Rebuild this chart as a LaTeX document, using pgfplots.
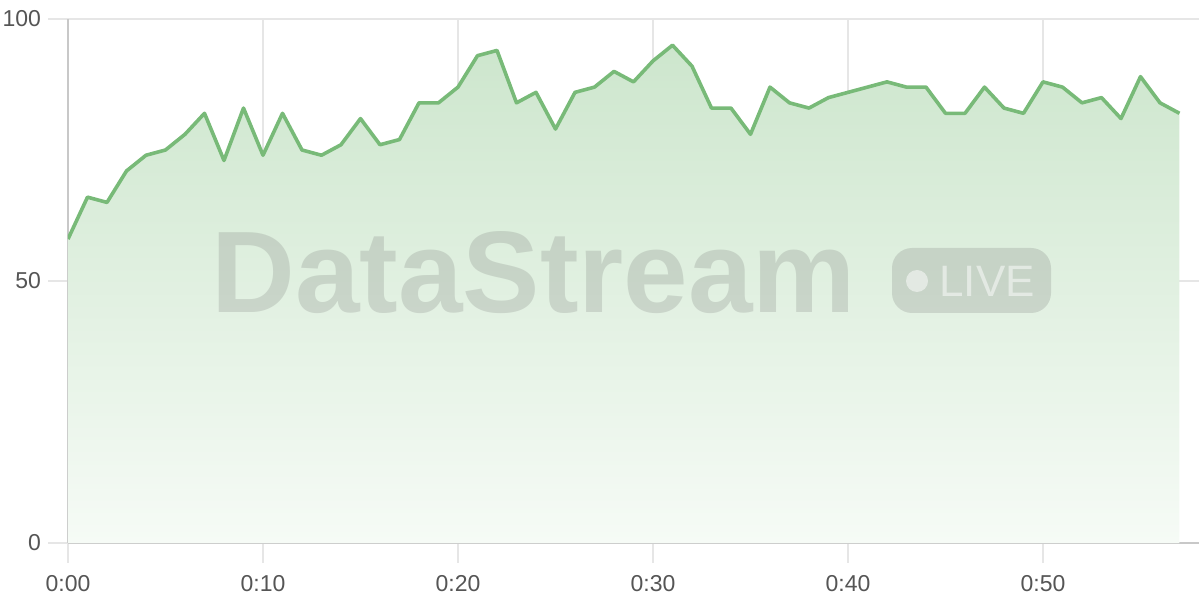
\documentclass[border=0pt]{standalone}
\usepackage{fontspec}
\setmainfont{Liberation Sans}
\usepackage{pgfplots}
\usepackage{pgfplotstable}
\pgfplotsset{compat=1.18}

\definecolor{linegreen}{RGB}{120,186,120}
\definecolor{gridgray}{RGB}{230,230,230}
\definecolor{axisgray}{RGB}{200,200,200}
\definecolor{labelgray}{RGB}{85,85,85}
\definecolor{filltop}{RGB}{205,230,205}
\definecolor{fillbot}{RGB}{246,251,246}

% minute, value
\pgfplotstableread{
t v
0 58
1 66
2 65
3 71
4 74
5 75
6 78
7 82
8 73
9 83
10 74
11 82
12 75
13 74
14 76
15 81
16 76
17 77
18 84
19 84
20 87
21 93
22 94
23 84
24 86
25 79
26 86
27 87
28 90
29 88
30 92
31 95
32 91
33 83
34 83
35 78
36 87
37 84
38 83
39 85
40 86
41 87
42 88
43 87
44 87
45 82
46 82
47 87
48 83
49 82
50 88
51 87
52 84
53 85
54 81
55 89
56 84
57 82
}\stream

\begin{document}
\begin{tikzpicture}
\begin{axis}[
    at={(0,0)}, anchor=south west,
    scale only axis, width=565.5pt, height=262pt,
    xmin=0, xmax=58, ymin=0, ymax=100,
    axis x line*=bottom, axis y line*=left,
    axis line style={axisgray, line width=1pt},
    xtick={0,10,20,30,40,50},
    xticklabels={0:00,0:10,0:20,0:30,0:40,0:50},
    ytick={0,50,100},
    grid=major,
    major grid style={gridgray, line width=0.75pt},
    tick style={gridgray, line width=0.75pt},
    tick align=outside, major tick length=10pt,
    ticklabel style={font=\fontsize{11.5}{13}\selectfont, text=labelgray},
    xticklabel style={yshift=-2.5pt},
    /pgf/number format/assume math mode=true,
]
\addplot[draw=none, top color=filltop, bottom color=fillbot]
    table[x=t, y=v] {\stream} \closedcycle;
\addplot[linegreen, line width=1.8pt, line join=round]
    table[x=t, y=v] {\stream};
\end{axis}

% watermark
\node[anchor=base west, inner sep=0pt, text=black!60, opacity=0.2,
      font=\fontsize{58}{58}\selectfont\bfseries] at (71.5pt,115pt) {DataStream};
\fill[black!60, opacity=0.2, rounded corners=10pt]
    (412pt,115pt) rectangle (491.5pt,147.5pt);
\fill[white, opacity=0.5] (424.5pt,131pt) circle (5.5pt);
\node[anchor=base west, inner sep=0pt, text=white, opacity=0.5,
      font=\fontsize{22}{22}\selectfont] at (435.5pt,123pt) {LIVE};

\pgfresetboundingbox
\path[use as bounding box] (-34pt,-28.5pt) rectangle (566pt,271.5pt);
\end{tikzpicture}
\end{document}
